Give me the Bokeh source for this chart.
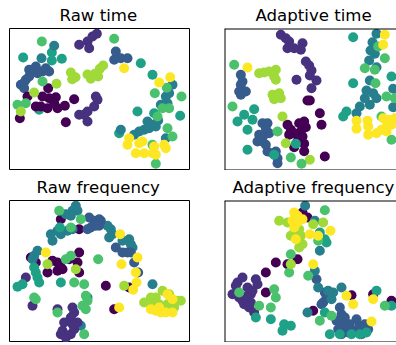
from bokeh.plotting import figure
from bokeh.layouts import column, row
from bokeh.models import Range1d, ColumnDataSource, Title, Span
from bokeh.embed import file_html
from bokeh.resources import INLINE

PALETTE = ["#440154", "#46327e", "#365c8d", "#277f8e", "#1fa187", "#4ac16d", "#a0da39", "#fde725"]
TITLES = ["Raw time", "Adaptive time", "Raw frequency", "Adaptive frequency"]

# ---------------- Raw time ----------------
rt_pts = {
    4: [(65,171),(151,156),(151,180),(181,175),(418,188),(453,223),(68,246),(113,328),(408,333),(458,338),(536,346),(353,398)],
    3: [(158,136),(120,173),(513,253),(503,278),(493,288),(498,308),(478,313),(438,363),(453,373),(443,383),(463,378),(428,388),(413,393),(398,403),(358,388),(493,413),(470,360)],
    2: [(343,153),(338,178),(358,173),(378,173),(83,208),(103,198),(108,218),(133,203),(143,213),(83,228),(73,238),(58,253),(68,263),(123,213)],
    1: [(233,133),(258,123),(273,108),(286,100),(263,143),(283,288),(278,318),(258,333),(233,343),(258,363),(248,343),(288,298)],
    0: [(140,263),(123,288),(143,293),(163,290),(158,308),(118,318),(138,323),(103,318),(78,288),(168,323),(190,316),(218,296),(193,365),(55,353)],
    5: [(121,123),(338,115),(123,243),(48,313),(73,308),(460,278),(496,262),(540,288),(483,323),(503,323),(468,348),(498,383),(513,408),(453,433),(463,490)],
    6: [(165,250),(98,276),(58,333),(208,216),(212,236),(222,230),(258,222),(268,235),(280,220),(290,228),(295,205),(305,195)],
    7: [(368,203),(473,246),(506,230),(383,413),(378,433),(413,428),(423,423),(403,458),(428,458),(458,438),(463,463),(488,433),(493,443),(453,458)],
}
raw_time_x = [p[0] for c in rt_pts for p in rt_pts[c]]
raw_time_y = [p[1] for c in rt_pts for p in rt_pts[c]]
raw_time_c = [c for c in rt_pts for p in rt_pts[c]]

# ---------------- Adaptive time ----------------
at_pts = {
    1: [(253,103),(268,113),(278,123),(273,143),(293,143),(318,128),(313,148),(328,183),(338,195),(345,210),(340,225),(300,238),(360,240),(345,263)],
    0: [(333,300),(370,338),(375,373),(323,363),(308,368),(273,373),(283,388),(293,398),(328,380),(313,393),(318,408),(278,403),(303,423),(323,430),(293,440),(323,452),(385,468),(340,300)],
    2: [(133,223),(138,243),(133,253),(128,273),(133,283),(148,273),(198,368),(213,368),(208,383),(203,403),(218,398),(188,403),(183,423),(198,423),(208,433),(213,453),(228,458),(238,453),(243,473),(243,488)],
    6: [(188,218),(203,216),(218,213),(238,208),(233,228),(238,238),(228,283),(238,288),(248,278),(253,293),(233,296),(258,348),(268,428),(340,478)],
    3: [(540,100),(528,125),(522,150),(535,160),(518,180),(540,200),(520,240),(510,270),(530,278),(540,293),(505,293),(490,318),(520,313),(480,338),(590,265),(590,320)],
    4: [(173,326),(143,343),(123,363),(168,358),(153,388),(153,448),(298,430),(233,463),(470,110),(470,248),(585,228),(450,333),(440,348)],
    5: [(113,193),(108,318),(243,393),(283,471),(315,490),(545,138),(565,173),(505,203),(535,208),(537,248),(570,288),(595,293),(555,348),(585,418)],
    7: [(153,201),(565,103),(560,133),(480,361),(513,361),(515,378),(560,353),(575,358),(570,378),(555,388),(515,403),(540,398),(570,393),(585,373),(595,353),(480,385)],
}
adaptive_time_x = [p[0] for c in at_pts for p in at_pts[c]]
adaptive_time_y = [p[1] for c in at_pts for p in at_pts[c]]
adaptive_time_c = [c for c in at_pts for p in at_pts[c]]

# ---------------- Raw frequency ----------------
rf_pts = {
    0: [(178,140),(233,170),(88,255),(103,270),(153,265),(168,270),(178,285),(138,300),(168,295),(183,290),(233,240),(228,270),(233,300),(203,260),(313,340),(383,345),(338,410)],
    3: [(193,125),(213,115),(223,100),(228,115),(208,130),(148,185),(168,175),(178,185),(153,205),(198,175),(213,170),(108,235),(98,250),(93,260),(318,160),(328,170),(333,185),(323,195),(363,205),(383,200),(388,215),(393,225),(453,335),(238,460),(258,375)],
    2: [(263,135),(278,145),(288,150),(298,145),(268,165),(283,160),(258,170),(293,140),(293,160),(343,225),(363,240),(378,240),(388,240),(398,270),(410,300)],
    1: [(73,315),(93,400),(168,410),(213,405),(218,420),(208,435),(188,450),(183,475),(178,485),(193,495),(208,485),(218,470),(213,455),(228,450)],
    4: [(98,285),(103,300),(108,315),(113,330),(48,343),(63,335),(178,330),(175,165)],
    5: [(173,115),(208,165),(238,140),(193,260),(208,250),(290,260),(218,330),(248,335),(98,375),(103,380),(253,370),(258,385),(253,410),(243,400),(168,420),(248,485)],
    6: [(138,275),(223,290),(368,340),(428,390),(448,375),(463,375),(483,355),(503,365),(528,385),(538,385),(498,395),(518,405),(473,395),(453,395)],
    7: [(133,240),(356,185),(408,255),(360,275),(403,300),(405,330),(395,352),(353,405),(498,365),(513,380),(448,410),(463,415),(478,420),(493,420),(513,420),(473,405)],
}
raw_freq_x = [p[0] for c in rf_pts for p in rf_pts[c]]
raw_freq_y = [p[1] for c in rf_pts for p in rf_pts[c]]
raw_freq_c = [c for c in rf_pts for p in rf_pts[c]]

# ---------------- Adaptive frequency ----------------
af_pts = {
    0: [(318,120),(333,135),(238,270),(273,275),(303,260),(208,300),(208,360),(465,368),(530,365),(585,385),(350,415)],
    1: [(138,315),(123,330),(118,340),(108,365),(128,375),(138,385),(153,370),(163,365),(153,345),(168,355),(178,320),(183,335),(158,405),(173,420),(163,390),(143,395)],
    2: [(360,320),(385,360),(390,375),(380,390),(375,395),(430,405),(435,425),(445,435),(420,445),(435,455),(425,470),(440,475),(460,455),(480,440),(490,460),(505,455),(470,475),(455,480),(435,485),(495,485),(515,470)],
    3: [(326,100),(355,145),(370,235),(355,295),(365,345),(435,345),(333,420),(395,355),(410,360),(405,380)],
    4: [(178,435),(223,440),(258,475),(283,460),(263,455),(370,180),(385,200),(390,210),(540,355),(585,400),(400,485),(430,485),(465,485),(490,485),(510,480),(385,420)],
    5: [(385,113),(283,245),(278,300),(335,310),(128,360),(233,350),(238,375),(223,405),(188,400),(365,205),(565,400),(370,445),(405,430)],
    6: [(248,145),(273,150),(308,170),(293,180),(283,190),(313,190),(318,215),(308,225),(283,275),(380,150),(350,155)],
    7: [(293,120),(303,130),(288,145),(303,150),(318,140),(293,165),(298,200),(340,185),(365,190),(402,175),(350,275),(450,370),(470,395),(530,380),(525,447)],
}
adaptive_freq_x = [p[0] for c in af_pts for p in af_pts[c]]
adaptive_freq_y = [p[1] for c in af_pts for p in af_pts[c]]
adaptive_freq_c = [c for c in af_pts for p in af_pts[c]]


def panel(title, xs, ys, cs, left_col, top_row, title_off):
    if left_col:
        xr = Range1d(24, 564)
        fw = 180
        mbl, mbr = 9, 35
    else:
        xr = Range1d(84, 600)
        fw = 172
        mbl, mbr = 0, 0
    t = Title(text=title, align="left", text_font="DejaVu Sans", text_font_size="16.6px",
              text_font_style="normal", text_color="black", standoff=7, offset=title_off)
    p = figure(frame_width=fw, frame_height=142, x_range=xr, y_range=Range1d(510, 84),
               output_backend="svg", toolbar_location=None,
               x_axis_location=None, y_axis_location=None, title=t,
               min_border_left=mbl, min_border_right=mbr,
               min_border_top=28 if top_row else 30, min_border_bottom=0)
    p.xgrid.visible = False
    p.ygrid.visible = False
    p.background_fill_color = "white"
    p.border_fill_color = "white"
    if left_col:
        p.outline_line_color = "black"
        p.outline_line_width = 1
    else:
        p.outline_line_color = None
        for loc, dim in ((84, "height"), (84, "width"), (510, "width")):
            p.add_layout(Span(location=loc, dimension=dim, line_color="black", line_width=2))
    src = ColumnDataSource(dict(x=xs, y=ys, color=[PALETTE[c] for c in cs]))
    p.scatter("x", "y", source=src, size=10, fill_color="color", line_color=None)
    return p


p1 = panel(TITLES[0], raw_time_x, raw_time_y, raw_time_c, True, True, 50)
p2 = panel(TITLES[1], adaptive_time_x, adaptive_time_y, adaptive_time_c, False, True, 31)
p3 = panel(TITLES[2], raw_freq_x, raw_freq_y, raw_freq_c, True, False, 27)
p4 = panel(TITLES[3], adaptive_freq_x, adaptive_freq_y, adaptive_freq_c, False, False, 8)

layout = column(row(p1, p2), row(p3, p4))
open("out.html", "w").write(file_html(layout, INLINE))
